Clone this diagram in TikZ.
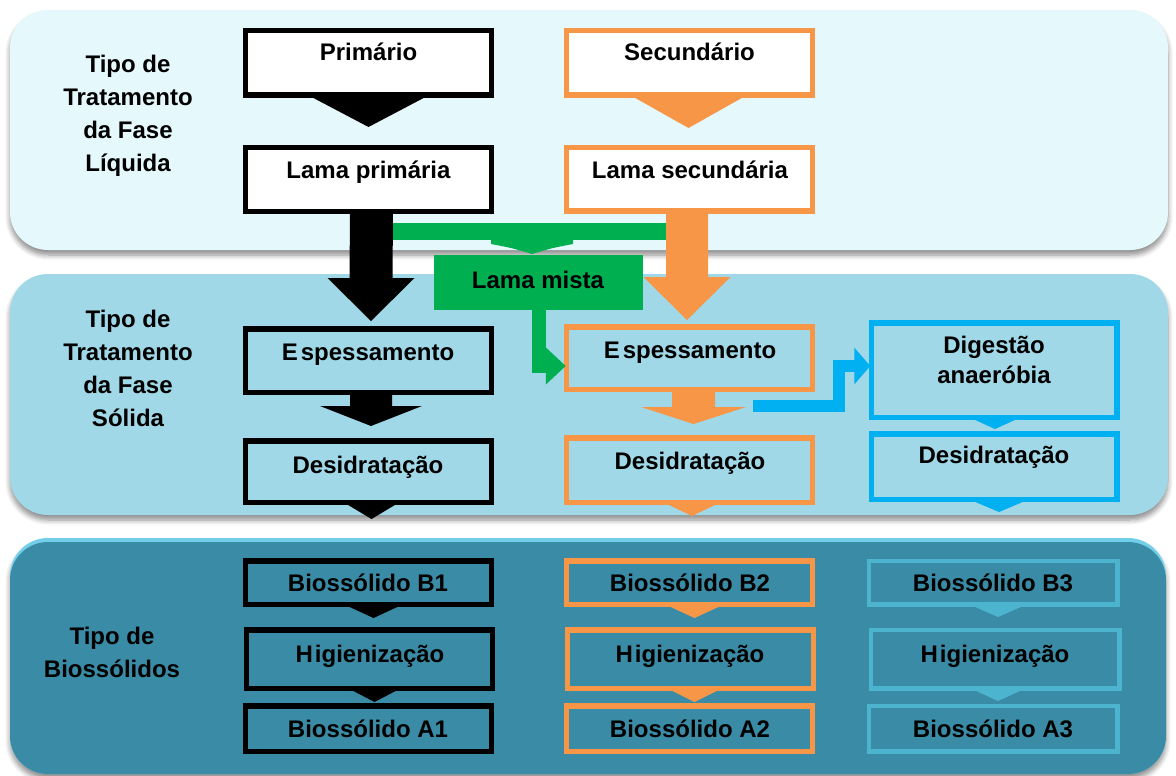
\documentclass[tikz,border=0pt]{standalone}
\usepackage{fontspec}
\setmainfont{Liberation Sans}
\usetikzlibrary{calc,shadows.blur,arrows.meta}
\definecolor{pA}{HTML}{E5F8FC}
\definecolor{pB}{HTML}{A0D8E8}
\definecolor{pC}{HTML}{3A8BA6}
\definecolor{pCtop}{HTML}{72CFEA}
\definecolor{orng}{HTML}{F79646}
\definecolor{grn}{HTML}{00B050}
\definecolor{blu}{HTML}{00B0F0}
\definecolor{ltb}{HTML}{4DB4D0}
\newcommand\vblk[6]{\fill[#1] ($(#2)+(-#4,0)$) -- ($(#3)+(-#4,-#6)$) -- ($(#3)+(-#5,-#6)$) -- (#3) -- ($(#3)+(#5,-#6)$) -- ($(#3)+(#4,-#6)$) -- ($(#2)+(#4,0)$) -- cycle;}
\newcommand\vtri[4]{\fill[#1] ($(#2)+(-#3,0)$) -- ($(#2)+(#3,0)$) -- ($(#2)+(0,#4)$) -- cycle;}
\begin{document}
\begin{tikzpicture}[x=1pt,y=-1pt,
  panel/.style={rounded corners=38pt, blur shadow={shadow blur steps=6, shadow xshift=0pt, shadow yshift=-5pt, shadow blur radius=5pt, shadow opacity=45}},
  bx/.style={rectangle, inner sep=0pt, minimum width=244pt, line width=3.5pt},
  kbx/.style={bx, draw=black},
  obx/.style={bx, draw=orng},
  bbx/.style={bx, draw=blu},
  lbx/.style={bx, draw=ltb, line width=3pt, minimum width=247pt},
  txt/.style={font=\fontsize{24}{33}\bfseries\selectfont, inner sep=0pt, align=center, text=black},
  stxt/.style={txt, text height=17pt, text depth=0pt}]
\useasboundingbox (0,0) rectangle (1176,776);
% panels
\path[panel, fill=pA] (10,10) rectangle (1168,250);
\path[panel, fill=pB] (10,274) rectangle (1168,515);
\path[panel, fill=pCtop] (10,538) rectangle (1166,774);
\begin{scope}
\clip[rounded corners=38pt] (10,538) rectangle (1166,774);
\fill[pC, rounded corners=38pt] (10,542) rectangle (1166,780);
\end{scope}
% side labels
\node[txt] (L1) at (128,116) {Tipo de\\Tratamento\\da Fase\\Líquida};
\node[txt] (L2) at (128,368.5) {Tipo de\\Tratamento\\da Fase\\Sólida};
\node[txt] (L3) at (112,652) {Tipo de\\Biossólidos};
% boxes
\node[kbx, fill=white, minimum height=62.5pt] (p1) at (368.5,63) {};
\node[kbx, fill=white, minimum height=62pt] (p2) at (368.5,179.5) {};
\node[obx, fill=white, minimum height=62.5pt] (s1) at (689.5,63) {};
\node[obx, fill=white, minimum height=62pt] (s2) at (689.5,179) {};
\node[kbx, minimum height=61.5pt] (e1) at (368.5,360.5) {};
\node[kbx, minimum height=59.5pt] (d1) at (368.5,471.5) {};
\node[obx, minimum height=60.5pt] (e2) at (689.5,358) {};
\node[obx, minimum height=62.5pt] (d2) at (689.5,470) {};
\node[bbx, minimum height=92.5pt] (g3) at (994,370) {};
\node[bbx, minimum height=63.5pt] (d3) at (994,466.5) {};
\node[kbx, minimum height=41.5pt] (b1) at (368.5,582.5) {};
\node[kbx, minimum height=56.5pt] (h1) at (369.5,659) {};
\node[kbx, minimum height=43.5pt] (a1) at (368.5,728.5) {};
\node[obx, minimum height=41.5pt] (b2) at (689.5,582.5) {};
\node[obx, minimum height=56.5pt] (h2) at (690.5,659) {};
\node[obx, minimum height=43.5pt] (a2) at (689.5,728.5) {};
\node[lbx, minimum height=42pt] (b3) at (993,582.5) {};
\node[lbx, minimum height=57pt] (h3) at (995,659) {};
\node[lbx, minimum height=44pt] (a3) at (993,728.5) {};
% green merge bar and box
\fill[grn] (385,223) rectangle (672,240);
\fill[grn] (491,239) -- (573,239) -- (573,244) .. controls (552,248) .. (532,254) .. controls (512,248) .. (491,244) -- cycle;
\node[fill=grn, inner sep=0pt, minimum width=209pt, minimum height=55pt] (mx) at (538.5,282.5) {};
% big block arrows
\coordinate (k1a) at ($(p2.south)+(3,0)$);
\coordinate (k1b) at ($(e1.north)+(2.5,-7)$);
\vblk{black}{k1a}{k1b}{21.5}{43.5}{43}
\coordinate (o1a) at ($(s2.south)+(-2.5,0)$);
\coordinate (o1b) at ($(e2.north)+(-2.5,-6)$);
\vblk{orng}{o1a}{o1b}{21}{43.5}{43}
\coordinate (k2a) at ($(e1.south)+(2.5,0)$);
\coordinate (k2b) at ($(d1.north)+(2.5,-14)$);
\vblk{black}{k2a}{k2b}{21}{51}{20}
\coordinate (o2a) at ($(e2.south)+(4,0)$);
\coordinate (o2b) at ($(d2.north)+(4,-13)$);
\vblk{orng}{o2a}{o2b}{21.5}{52.5}{17}
% small chevrons
\coordinate (tp1) at ($(p1.south)+(0,1)$); \vtri{black}{tp1}{57}{30}
\coordinate (ts1) at ($(s1.south)+(-1,1)$); \vtri{orng}{ts1}{55}{31}
\coordinate (td1) at ($(d1.south)+(3,1)$); \vtri{black}{td1}{25}{15}
\coordinate (td2) at ($(d2.south)+(2.5,1)$); \vtri{orng}{td2}{25}{12}
\coordinate (tg3) at ($(g3.south)+(1,1)$); \vtri{blu}{tg3}{22}{10}
\coordinate (td3) at ($(d3.south)+(5,1)$); \vtri{blu}{td3}{26}{11}
\coordinate (tb1) at ($(b1.south)+(5,1)$); \vtri{black}{tb1}{26}{12}
\coordinate (th1) at ($(h1.south)+(5,1)$); \vtri{black}{th1}{23}{12}
\coordinate (tb2) at ($(b2.south)+(5,1)$); \vtri{orng}{tb2}{26}{12}
\coordinate (th2) at ($(h2.south)+(4,1)$); \vtri{orng}{th2}{24}{12}
\coordinate (tb3) at ($(b3.south)+(5,1)$); \vtri{ltb}{tb3}{25}{11}
\coordinate (th3) at ($(h3.south)+(3,1)$); \vtri{ltb}{th3}{24}{11}
% redraw box borders on top of arrows
\foreach \n in {p1,p2,e1,d1,b1,h1,a1}{\draw[black, line width=3.5pt] (\n.north west) rectangle (\n.south east);}
\foreach \n in {s1,s2,e2,d2,b2,h2,a2}{\draw[orng, line width=3.5pt] (\n.north west) rectangle (\n.south east);}
\foreach \n in {g3,d3}{\draw[blu, line width=3.5pt] (\n.north west) rectangle (\n.south east);}
\foreach \n in {b3,h3,a3}{\draw[ltb, line width=3pt] (\n.north west) rectangle (\n.south east);}
% green bent arrow
\draw[grn, line width=14pt, -{Triangle[length=20pt,width=36pt]}] (mx.south) |- ($(e2.west)+(0,8)$);
% blue bent arrow
\coordinate (bs) at ($(e2.south east)+(-60,16)$);
\coordinate (bc) at ($(bs)+(86,0)$);
\draw[blu, line width=12pt, -{Triangle[length=16pt,width=36pt]}] (bs) -- (bc) |- ($(g3.west)+(0,-4)$);
% texts
\node[stxt] (tp1t) at (368.5,52) {Primário};
\node[stxt] (ts1t) at (689.5,52) {Secundário};
\node[stxt] (tp2t) at (368.5,170) {Lama primária};
\node[stxt] (ts2t) at (690,170) {Lama secundária};
\node[stxt] (mxt) at (538,280) {Lama mista};
\node[stxt] (e1t) at (368,352) {E\kern3pt spessamento};
\node[stxt] (e2t) at (690,350) {E\kern3pt spessamento};
\node[txt, font=\fontsize{24}{30}\bfseries\selectfont] (g3t) at (994,360) {Digestão\\anaeróbia};
\node[stxt] (d1t) at (368,465) {Desidratação};
\node[stxt] (d2t) at (690,461) {Desidratação};
\node[stxt] (d3t) at (994,455) {Desidratação};
\node[stxt] (b1t) at (368,583) {Biossólido B1};
\node[stxt] (b2t) at (690,583) {Biossólido B2};
\node[stxt] (b3t) at (993,583) {Biossólido B3};
\node[stxt] (h1t) at (370,654) {H\kern2pt igienização};
\node[stxt] (h2t) at (690,654) {H\kern2pt igienização};
\node[stxt] (h3t) at (995,654) {H\kern2pt igienização};
\node[stxt] (a1t) at (368,729) {Biossólido A1};
\node[stxt] (a2t) at (690,729) {Biossólido A2};
\node[stxt] (a3t) at (993,729) {Biossólido A3};
\end{tikzpicture}
\end{document}
